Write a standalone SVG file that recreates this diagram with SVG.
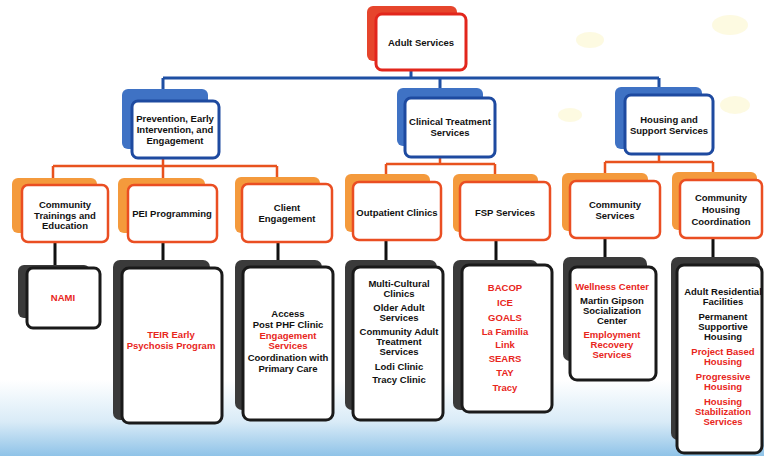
<svg xmlns="http://www.w3.org/2000/svg" width="764" height="456" viewBox="0 0 764 456">
<defs>
<linearGradient id="bg" x1="0" y1="0" x2="0" y2="1">
<stop offset="0" stop-color="#ffffff"/>
<stop offset="0.55" stop-color="#d9ebf7"/>
<stop offset="1" stop-color="#8fc3e8"/>
</linearGradient>
<style>
text{font-family:"Liberation Sans",Arial,sans-serif;font-weight:bold;font-size:9.5px;text-anchor:middle;fill:#111}
.r{fill:#e8261c}
.sR{fill:#e6452c}
.fR{fill:#fff;stroke:#e2261c;stroke-width:3}
.sB{fill:#3f72c4}
.fB{fill:#fff;stroke:#1e4aa0;stroke-width:3}
.sO{fill:#f49a3c}
.fO{fill:#fff;stroke:#ea4e22;stroke-width:2.5}
.sK{fill:#3a3a3a}
.fK{fill:#fff;stroke:#1a1a1a;stroke-width:3}
.cB{fill:none;stroke:#1e4fa3;stroke-width:3}
.cO{fill:none;stroke:#e8521e;stroke-width:2.5}
.cK{fill:none;stroke:#111;stroke-width:3}
</style>
</defs>
<rect x="0" y="0" width="764" height="456" fill="#fff"/>
<rect x="0" y="380" width="764" height="76" fill="url(#bg)"/>
<g opacity="0.18" fill="#f7e460">
<ellipse cx="590" cy="40" rx="14" ry="8"/>
<ellipse cx="730" cy="25" rx="18" ry="10"/>
<ellipse cx="735" cy="105" rx="15" ry="9"/>
<ellipse cx="570" cy="115" rx="12" ry="7"/>
</g>

<g id="connectors">
<path class="cB" d="M411 70V78M163 78H659M163 78V92M440 78V98M659 78V94"/>
<path class="cO" d="M163 158V166M53 166H277M53 166V180M163 166V180M277 166V180"/>
<path class="cO" d="M440 157V164M386 164H495M386 164V176M495 164V176"/>
<path class="cO" d="M659 154V162M605 162H713M605 162V175M713 162V175"/>
<path class="cK" d="M55 242V266M163 242V262M278 242V262M386 240V262M496 240V262M605 238V260M713 238V260"/>
</g>

<g id="adult-services">
<rect class="sR" x="367" y="6" width="90" height="55" rx="6"/>
<rect class="fR" x="376" y="14" width="90" height="56" rx="6"/>
<text x="421" y="46">Adult Services</text>
</g>

<g id="prevention">
<rect class="sB" x="122" y="89" width="86" height="60" rx="6"/>
<rect class="fB" x="132" y="101" width="87" height="57" rx="6"/>
<text x="175" y="122">Prevention, Early</text>
<text x="175" y="133">Intervention, and</text>
<text x="175" y="144">Engagement</text>
</g>

<g id="clinical">
<rect class="sB" x="397" y="88" width="86" height="58" rx="6"/>
<rect class="fB" x="405" y="98" width="90" height="59" rx="6"/>
<text x="450" y="125">Clinical Treatment</text>
<text x="450" y="136">Services</text>
</g>

<g id="housing">
<rect class="sB" x="615" y="87" width="87" height="62" rx="6"/>
<rect class="fB" x="625" y="95" width="88" height="59" rx="6"/>
<text x="669" y="123">Housing and</text>
<text x="669" y="134">Support Services</text>
</g>

<g id="community-trainings">
<rect class="sO" x="12" y="178" width="85" height="55" rx="6"/>
<rect class="fO" x="22" y="185" width="86" height="57" rx="6"/>
<text x="65" y="208">Community</text>
<text x="65" y="219">Trainings and</text>
<text x="65" y="229">Education</text>
</g>

<g id="pei-programming">
<rect class="sO" x="118" y="178" width="87" height="55" rx="6"/>
<rect class="fO" x="128" y="185" width="89" height="57" rx="6"/>
<text x="172" y="217">PEI Programming</text>
</g>

<g id="client-engagement">
<rect class="sO" x="235" y="177" width="85" height="56" rx="6"/>
<rect class="fO" x="242" y="184" width="90" height="58" rx="6"/>
<text x="287" y="211">Client</text>
<text x="287" y="222">Engagement</text>
</g>

<g id="outpatient-clinics">
<rect class="sO" x="345" y="174" width="85" height="58" rx="6"/>
<rect class="fO" x="353" y="182" width="88" height="58" rx="6"/>
<text x="397" y="216">Outpatient Clinics</text>
</g>

<g id="fsp-services">
<rect class="sO" x="453" y="174" width="85" height="58" rx="6"/>
<rect class="fO" x="460" y="182" width="90" height="58" rx="6"/>
<text x="505" y="216">FSP Services</text>
</g>

<g id="community-services">
<rect class="sO" x="562" y="173" width="86" height="58" rx="6"/>
<rect class="fO" x="570" y="181" width="90" height="57" rx="6"/>
<text x="615" y="208">Community</text>
<text x="615" y="219">Services</text>
</g>

<g id="community-housing">
<rect class="sO" x="672" y="172" width="85" height="58" rx="6"/>
<rect class="fO" x="680" y="180" width="82" height="58" rx="6"/>
<text x="721" y="201">Community</text>
<text x="721" y="213">Housing</text>
<text x="721" y="225">Coordination</text>
</g>

<g id="nami">
<rect class="sK" x="18" y="265" width="72" height="53" rx="6"/>
<rect class="fK" x="27" y="268" width="73" height="60" rx="6"/>
<text class="r" x="63" y="301">NAMI</text>
</g>

<g id="teir">
<rect class="sK" x="113" y="260" width="97" height="160" rx="7"/>
<rect class="fK" x="122" y="268" width="100" height="155" rx="7"/>
<text class="r" x="171" y="338">TEIR Early</text>
<text class="r" x="171" y="349">Psychosis Program</text>
</g>

<g id="client-list">
<rect class="sK" x="235" y="260" width="87" height="150" rx="7"/>
<rect class="fK" x="243" y="267" width="90" height="153" rx="7"/>
<text x="288" y="317">Access</text>
<text x="288" y="328">Post PHF Clinic</text>
<text class="r" x="288" y="339">Engagement</text>
<text class="r" x="288" y="349">Services</text>
<text x="288" y="361">Coordination with</text>
<text x="288" y="372">Primary Care</text>
</g>

<g id="outpatient-list">
<rect class="sK" x="345" y="260" width="92" height="150" rx="7"/>
<rect class="fK" x="353" y="267" width="90" height="153" rx="7"/>
<text x="399" y="287">Multi-Cultural</text>
<text x="399" y="297">Clinics</text>
<text x="399" y="311">Older Adult</text>
<text x="399" y="321">Services</text>
<text x="399" y="335">Community Adult</text>
<text x="399" y="345">Treatment</text>
<text x="399" y="355">Services</text>
<text x="399" y="370">Lodi Clinic</text>
<text x="399" y="383">Tracy Clinic</text>
</g>

<g id="fsp-list">
<rect class="sK" x="453" y="260" width="85" height="150" rx="7"/>
<rect class="fK" x="462" y="265" width="90" height="147" rx="7"/>
<text class="r" x="505" y="291">BACOP</text>
<text class="r" x="505" y="306">ICE</text>
<text class="r" x="505" y="321">GOALS</text>
<text class="r" x="505" y="335">La Familia</text>
<text class="r" x="505" y="348">Link</text>
<text class="r" x="505" y="362">SEARS</text>
<text class="r" x="505" y="376">TAY</text>
<text class="r" x="505" y="391">Tracy</text>
</g>

<g id="community-list">
<rect class="sK" x="563" y="257" width="84" height="104" rx="7"/>
<rect class="fK" x="570" y="267" width="86" height="113" rx="7"/>
<text class="r" x="612" y="290">Wellness Center</text>
<text x="612" y="304">Martin Gipson</text>
<text x="612" y="314">Socialization</text>
<text x="612" y="324">Center</text>
<text class="r" x="612" y="338">Employment</text>
<text class="r" x="612" y="348">Recovery</text>
<text class="r" x="612" y="358">Services</text>
</g>

<g id="housing-list">
<rect class="sK" x="671" y="257" width="89" height="183" rx="7"/>
<rect class="fK" x="677" y="265" width="85" height="188" rx="7"/>
<text x="723" y="295">Adult Residential</text>
<text x="723" y="305">Facilities</text>
<text x="723" y="320">Permanent</text>
<text x="723" y="330">Supportive</text>
<text x="723" y="340">Housing</text>
<text class="r" x="723" y="355">Project Based</text>
<text class="r" x="723" y="365">Housing</text>
<text class="r" x="723" y="380">Progressive</text>
<text class="r" x="723" y="390">Housing</text>
<text class="r" x="723" y="405">Housing</text>
<text class="r" x="723" y="415">Stabilization</text>
<text class="r" x="723" y="425">Services</text>
</g>
</svg>
